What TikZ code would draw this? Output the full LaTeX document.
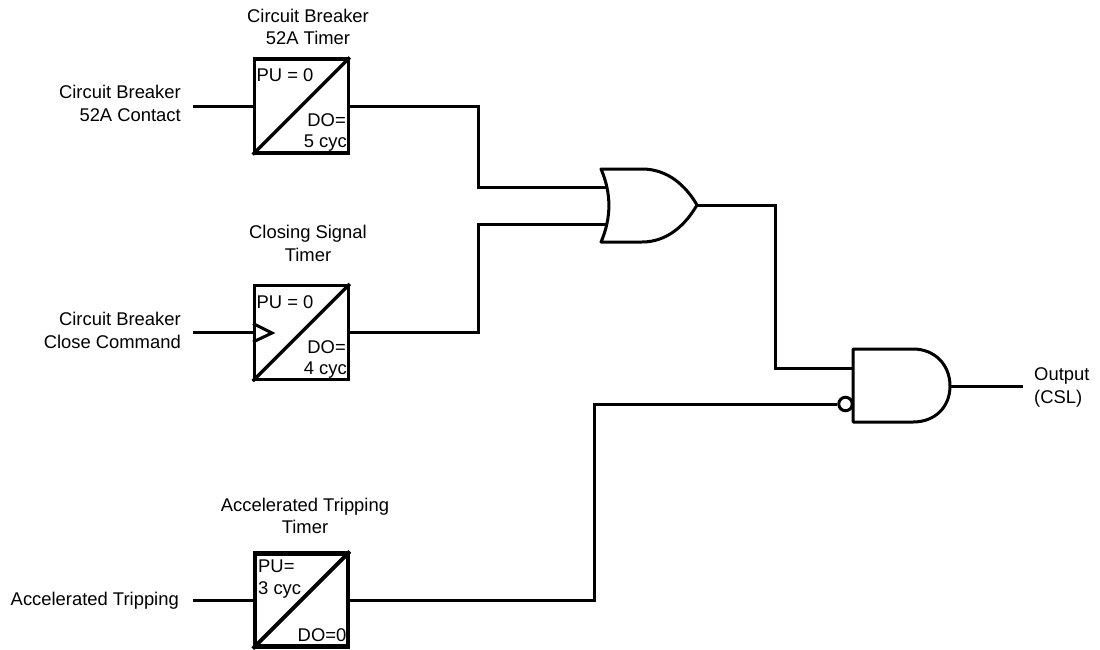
\documentclass[tikz,border=0pt]{standalone}
\usepackage{fontspec}
\setmainfont{Liberation Sans}
\tikzset{
  wire/.style={line width=3pt,line join=miter},
  gate/.style={line width=3pt,line join=round},
  timer/.style={draw,line width=3.2pt,minimum size=94pt,inner sep=0pt,outer sep=1.6pt},
  caption/.style={align=center,inner sep=0pt,font=\fontsize{18.4}{22.6}\selectfont},
  sidelabel/.style={align=right,anchor=east,inner sep=0pt,font=\fontsize{18.4}{22.6}\selectfont},
  inlabel/.style={anchor=west,inner sep=0pt,font=\fontsize{18.4}{22.6}\selectfont},
  outlabel/.style={anchor=east,inner sep=0pt,font=\fontsize{18.4}{22.6}\selectfont}
}
\begin{document}
\begin{tikzpicture}[x=1pt,y=-1pt]
  \useasboundingbox (0,0) rectangle (1100,649);
  % timers
  \node[timer] (tmrA) at (301.3,106) {};
  \node[timer] (tmrB) at (301.3,332.5) {};
  \node[timer,line width=4.2pt,minimum size=93pt,outer sep=2.1pt] (tmrC) at (301.3,600) {};
  \draw[line width=3.4pt] (tmrA.south west) -- (tmrA.north east);
  \draw[line width=3.4pt] (tmrB.south west) -- (tmrB.north east);
  \draw[line width=3.8pt] (tmrC.south west) -- (tmrC.north east);
  \draw[line width=3pt] (253,323.5) -- (272,333) -- (253,342);
  % timer settings
  \node[inlabel] (puA) at (256.5,75) {PU = 0};
  \node[outlabel] (doA) at (346,120) {DO=};
  \node[outlabel] (cycA) at (347,143) {5 cyc};
  \node[inlabel] (puB) at (256.5,302) {PU = 0};
  \node[outlabel] (doB) at (346,347) {DO=};
  \node[outlabel] (cycB) at (347,370) {4 cyc};
  \node[inlabel] (puC) at (258,566.5) {PU=};
  \node[inlabel] (cycC) at (258,590) {3 cyc};
  \node[outlabel] (doC) at (346.5,635) {DO=0};
  % captions
  \node[caption] (capA) at (308,27) {Circuit Breaker\\52A Timer};
  \node[caption] (capB) at (308,243.5) {Closing Signal\\Timer};
  \node[caption] (capC) at (305,516) {Accelerated Tripping\\Timer};
  \node[sidelabel] (lblA) at (181,103.5) {Circuit Breaker\\52A Contact};
  \node[sidelabel] (lblB) at (181,330.5) {Circuit Breaker\\Close Command};
  \node[sidelabel] (lblC) at (179,600.5) {Accelerated Tripping};
  \node[anchor=west,align=left,inner sep=0pt,font=\fontsize{18.4}{22.6}\selectfont] (lblOut) at (1034,387.5) {Output\\(CSL)};
  % or gate
  \draw[gate] (601,169) -- (642,169) .. controls (668,169) and (686,186) .. (697,205)
    .. controls (686,224) and (668,242) .. (642,242) -- (601,242)
    .. controls (611.5,218) and (611.5,193) .. (601,169) -- cycle;
  \coordinate (orInA) at (606,187);
  \coordinate (orInB) at (606,224);
  \coordinate (orOut) at (697,205);
  % and gate
  \draw[gate] (853,349) -- (913,349) .. controls (935,349) and (950,365) .. (950,386)
    .. controls (950,407) and (935,422) .. (913,422) -- (853,422) -- cycle;
  \coordinate (andInA) at (853,368);
  \coordinate (andOut) at (950,386);
  \node[circle,draw,line width=3pt,fill=white,minimum size=13.5pt,inner sep=0pt,outer sep=1.5pt] (notC) at (845.5,404) {};
  % free ends
  \coordinate (inA) at (193,106);
  \coordinate (inB) at (193,332.5);
  \coordinate (inC) at (193,600);
  \coordinate (out) at (1023,386);
  \coordinate (jogA) at (478,187);
  \coordinate (jogB) at (478,224);
  \coordinate (jogC) at (594,404);
  \coordinate (jogD) at (775,368);
  % wires
  \draw[wire] (inA) -- (tmrA.west);
  \draw[wire] (inB) -- (tmrB.west);
  \draw[wire] (inC) -- (tmrC.west);
  \draw[wire] (tmrA.east) -| (jogA) -- (orInA);
  \draw[wire] (tmrB.east) -| (jogB) -- (orInB);
  \draw[wire] (tmrC.east) -| (jogC) -- (notC.west);
  \draw[wire] (orOut) -| (jogD) -- (andInA);
  \draw[wire] (andOut) -- (out);
\end{tikzpicture}
\end{document}
